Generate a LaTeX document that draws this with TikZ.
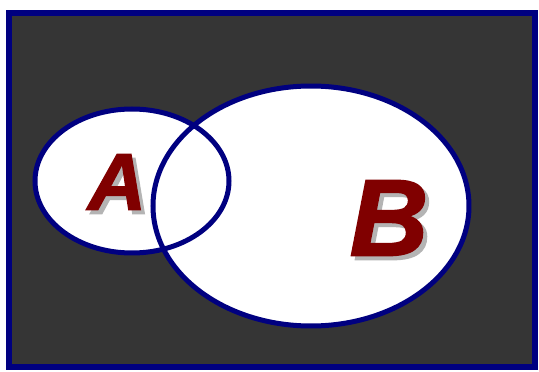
\documentclass[tikz,border=0pt]{standalone}
\usepackage{fontspec}
\setmainfont{Liberation Sans}
\newfontfamily\heavyfont[FakeBold=1.6]{Liberation Sans Bold Italic}
\definecolor{panel}{HTML}{353535}
\definecolor{rim}{HTML}{000080}
\definecolor{letter}{HTML}{800000}
\definecolor{shade}{HTML}{B4B4B4}
\newcommand{\shadowed}[1]{\makebox[0pt][l]{\kern0.08cm\raisebox{-0.08cm}{\color{shade}#1}}{\color{letter}#1}}
\begin{document}
\begin{tikzpicture}[x=0.02cm, y=-0.02cm,
		setline/.style={draw=rim, line width=0.1cm},
		setname/.style={inner sep=0pt, font=\heavyfont}]
				\useasboundingbox (0,0) rectangle (539,372);
				\draw[rim, fill=panel, line width=0.13cm] (9,13) rectangle (535,367);

				\fill[white] (132,181) ellipse [x radius=97, y radius=72];
				\fill[white] (311,206) ellipse [x radius=158, y radius=120];
				\draw[setline] (132,181) ellipse [x radius=97, y radius=72];
				\draw[setline] (311,206) ellipse [x radius=158, y radius=120];

				\node (A) [setname] at (117,184) {\fontsize{46}{46}\selectfont\shadowed{A}};
				\node (B) [setname] at (389,220) {\fontsize{62}{62}\selectfont\shadowed{B}};
			\end{tikzpicture}
\end{document}
